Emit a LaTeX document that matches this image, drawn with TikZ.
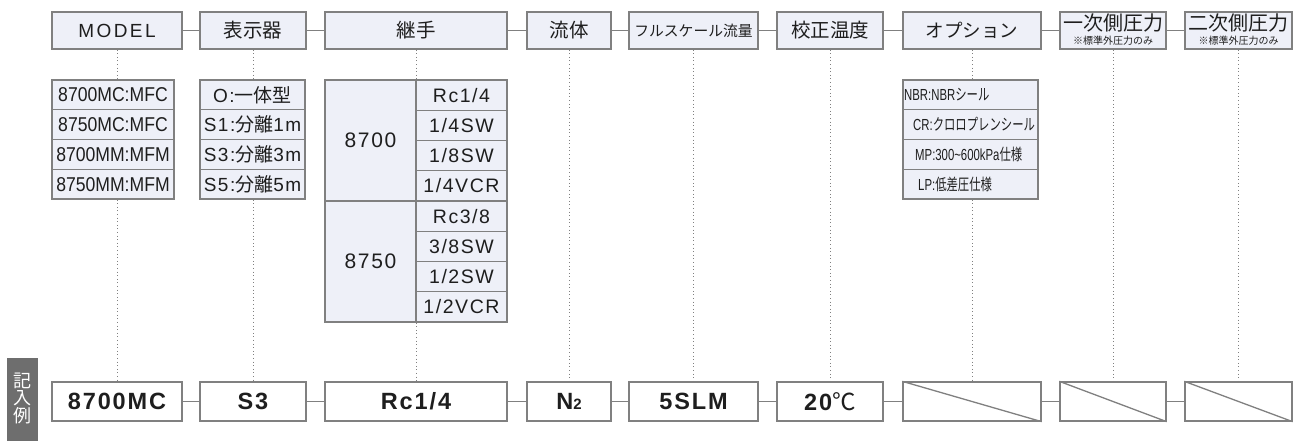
\documentclass[tikz,border=0pt]{standalone}
\usepackage{fontspec}
\usepackage{graphicx}
\setmainfont{Liberation Sans}
\newfontfamily\jp{Noto Sans CJK JP}
\newfontfamily\wide[LetterSpace=8]{Liberation Sans}
\newfontfamily\wider[LetterSpace=13]{Liberation Sans}
\newcommand\myfs[1]{\fontsize{#1}{#1}\selectfont}
\definecolor{hdrfill}{RGB}{238,240,248}
\definecolor{bord}{RGB}{128,128,128}
\definecolor{txt}{RGB}{30,30,30}
\definecolor{barc}{RGB}{110,110,110}
\tikzset{
 hdr/.style={draw=bord, line width=1.3pt, fill=hdrfill, minimum height=37, inner sep=0, text=txt},
 lst/.style={draw=bord, line width=1.1pt, fill=hdrfill, inner sep=0, text=txt},
 ex/.style={draw=bord, line width=1.3pt, fill=white, minimum height=39, inner sep=0, text=txt},
 link/.style={draw=bord, line width=1pt},
 dots/.style={draw=bord, line width=0.9pt, dash pattern=on 1pt off 2.6pt},
 lbl/.style={inner sep=0, text=txt},
}
\begin{document}
\begin{tikzpicture}[x=1pt,y=-1pt]
\useasboundingbox (0,0) rectangle (1299,441);
% header
\node[hdr,minimum width=130] (hA) at (117,30.5) {\wider\myfs{19}MODEL};
\node[hdr,minimum width=106] (hB) at (253,30.5) {\jp\myfs{19.5}表示器};
\node[hdr,minimum width=182] (hC) at (416,30.5) {\jp\myfs{19.5}継手};
\node[hdr,minimum width=84] (hD) at (569,30.5) {\jp\myfs{19.5}流体};
\node[hdr,minimum width=129] (hE) at (693.5,30.5) {\jp\myfs{14.8}フルスケール流量};
\node[hdr,minimum width=106] (hF) at (830,30.5) {\jp\myfs{19.5}校正温度};
\node[hdr,minimum width=138] (hG) at (972,30.5) {\jp\myfs{18.5}オプション};
\node[hdr,minimum width=106] (hH) at (1113,30.5) {};
\node[hdr,minimum width=107] (hI) at (1238.5,30.5) {};
\node[lbl] (hHa) at (1113,23) {\jp\myfs{20}一次側圧力};
\node[lbl] (hHb) at (1113,40.5) {\jp\myfs{10}※標準外圧力のみ};
\node[lbl] (hIa) at (1238.5,23) {\jp\myfs{20}二次側圧力};
\node[lbl] (hIb) at (1238.5,40.5) {\jp\myfs{10}※標準外圧力のみ};
\foreach \a/\b in {hA/hB,hB/hC,hC/hD,hD/hE,hE/hF,hF/hG,hG/hH,hH/hI}
  \draw[link] (\a.east) -- (\b.west);
% MODEL list
\foreach \t [count=\i] in {8700MC:MFC,8750MC:MFC,8700MM:MFM,8750MM:MFM}
  \node[lst,minimum width=122,minimum height=29.75] (lA\i) at (113,{80+14.875+29.75*(\i-1)}) {\myfs{20}\scalebox{0.88}[1]{\t}};
% display list
\foreach \t [count=\i] in {{O:{\jp 一体型}},{S1:{\jp 分離}1m},{S3:{\jp 分離}3m},{S5:{\jp 分離}5m}}
  \node[lst,minimum width=105,minimum height=29.75] (lB\i) at (252.5,{80+14.875+29.75*(\i-1)}) {\wide\myfs{19}\t};
% joint list
\node[lst,minimum width=91,minimum height=121] (lC1) at (370.5,140.5) {\wide\myfs{21}8700};
\node[lst,minimum width=91,minimum height=121] (lC2) at (370.5,261.5) {\wide\myfs{21}8750};
\foreach \t [count=\i] in {Rc1/4,1/4SW,1/8SW,1/4VCR,Rc3/8,3/8SW,1/2SW,1/2VCR}
  \node[lst,minimum width=91,minimum height=30.25] (lR\i) at (461.5,{80+15.125+30.25*(\i-1)}) {\wide\myfs{19.5}\t};
% option list
\node[lst,minimum width=135,minimum height=29.75] (lG1) at (970.5,94.875) {};
\node[lst,minimum width=135,minimum height=29.75] (lG2) at (970.5,124.625) {};
\node[lst,minimum width=135,minimum height=29.75] (lG3) at (970.5,154.375) {};
\node[lst,minimum width=135,minimum height=29.75] (lG4) at (970.5,184.125) {};
\node[lbl,anchor=west] (tG1) at (904,94.875) {\myfs{16}\scalebox{0.71}[1]{NBR:NBR{\jp シール}}};
\node[lbl,anchor=west] (tG2) at (913,124.625) {\myfs{16}\scalebox{0.71}[1]{CR:{\jp クロロプレンシール}}};
\node[lbl,anchor=west] (tG3) at (915,154.375) {\myfs{16}\scalebox{0.71}[1]{MP:300\textasciitilde 600kPa{\jp 仕様}}};
\node[lbl,anchor=west] (tG4) at (918,184.125) {\myfs{16}\scalebox{0.71}[1]{LP:{\jp 低差圧仕様}}};
% bottom example row
\fill[barc] (7,358) rectangle (38,441);
\node[lbl,text=white] (k1) at (22.5,380.5) {\jp\myfs{18}記};
\node[lbl,text=white] (k2) at (22.5,398.5) {\jp\myfs{18}入};
\node[lbl,text=white] (k3) at (22.5,415.5) {\jp\myfs{18}例};
\node[ex,minimum width=130] (bA) at (117,401.5) {\wide\bfseries\myfs{23.5}8700MC};
\node[ex,minimum width=106] (bB) at (253,401.5) {\wide\bfseries\myfs{23.5}S3};
\node[ex,minimum width=182] (bC) at (416,401.5) {\wide\bfseries\myfs{23.5}Rc1/4};
\node[ex,minimum width=84] (bD) at (569,401.5) {\wide\bfseries\myfs{23.5}N{\myfs{15}2}};
\node[ex,minimum width=129] (bE) at (693.5,401.5) {\wide\bfseries\myfs{23.5}5SLM};
\node[ex,minimum width=106] (bF) at (830,401.5) {\wide\bfseries\myfs{23.5}20{\jp\mdseries ℃}};
\node[ex,minimum width=138] (bG) at (972,401.5) {};
\node[ex,minimum width=106] (bH) at (1113,401.5) {};
\node[ex,minimum width=107] (bI) at (1238.5,401.5) {};
\foreach \a/\b in {bA/bB,bB/bC,bC/bD,bD/bE,bE/bF,bF/bG,bG/bH,bH/bI}
  \draw[link] (\a.east) -- (\b.west);
\foreach \n in {bG,bH,bI}
  \draw[link,line width=1.3pt] (\n.north west) -- (\n.south east);
% dotted guides
\draw[dots] (hA.south) -- (hA.south |- lA1.north);
\draw[dots] (hA.south |- lA4.south) -- (bA.north);
\draw[dots] (hB.south) -- (hB.south |- lB1.north);
\draw[dots] (hB.south |- lB4.south) -- (bB.north);
\draw[dots] (hC.south) -- (hC.south |- lR1.north);
\draw[dots] (hC.south |- lR8.south) -- (bC.north);
\draw[dots] (hD.south) -- (bD.north);
\draw[dots] (hE.south) -- (bE.north);
\draw[dots] (hF.south) -- (bF.north);
\draw[dots] (hG.south) -- (hG.south |- lG1.north);
\draw[dots] (hG.south |- lG4.south) -- (bG.north);
\draw[dots] (hH.south) -- (bH.north);
\draw[dots] (hI.south) -- (bI.north);
\end{tikzpicture}
\end{document}
